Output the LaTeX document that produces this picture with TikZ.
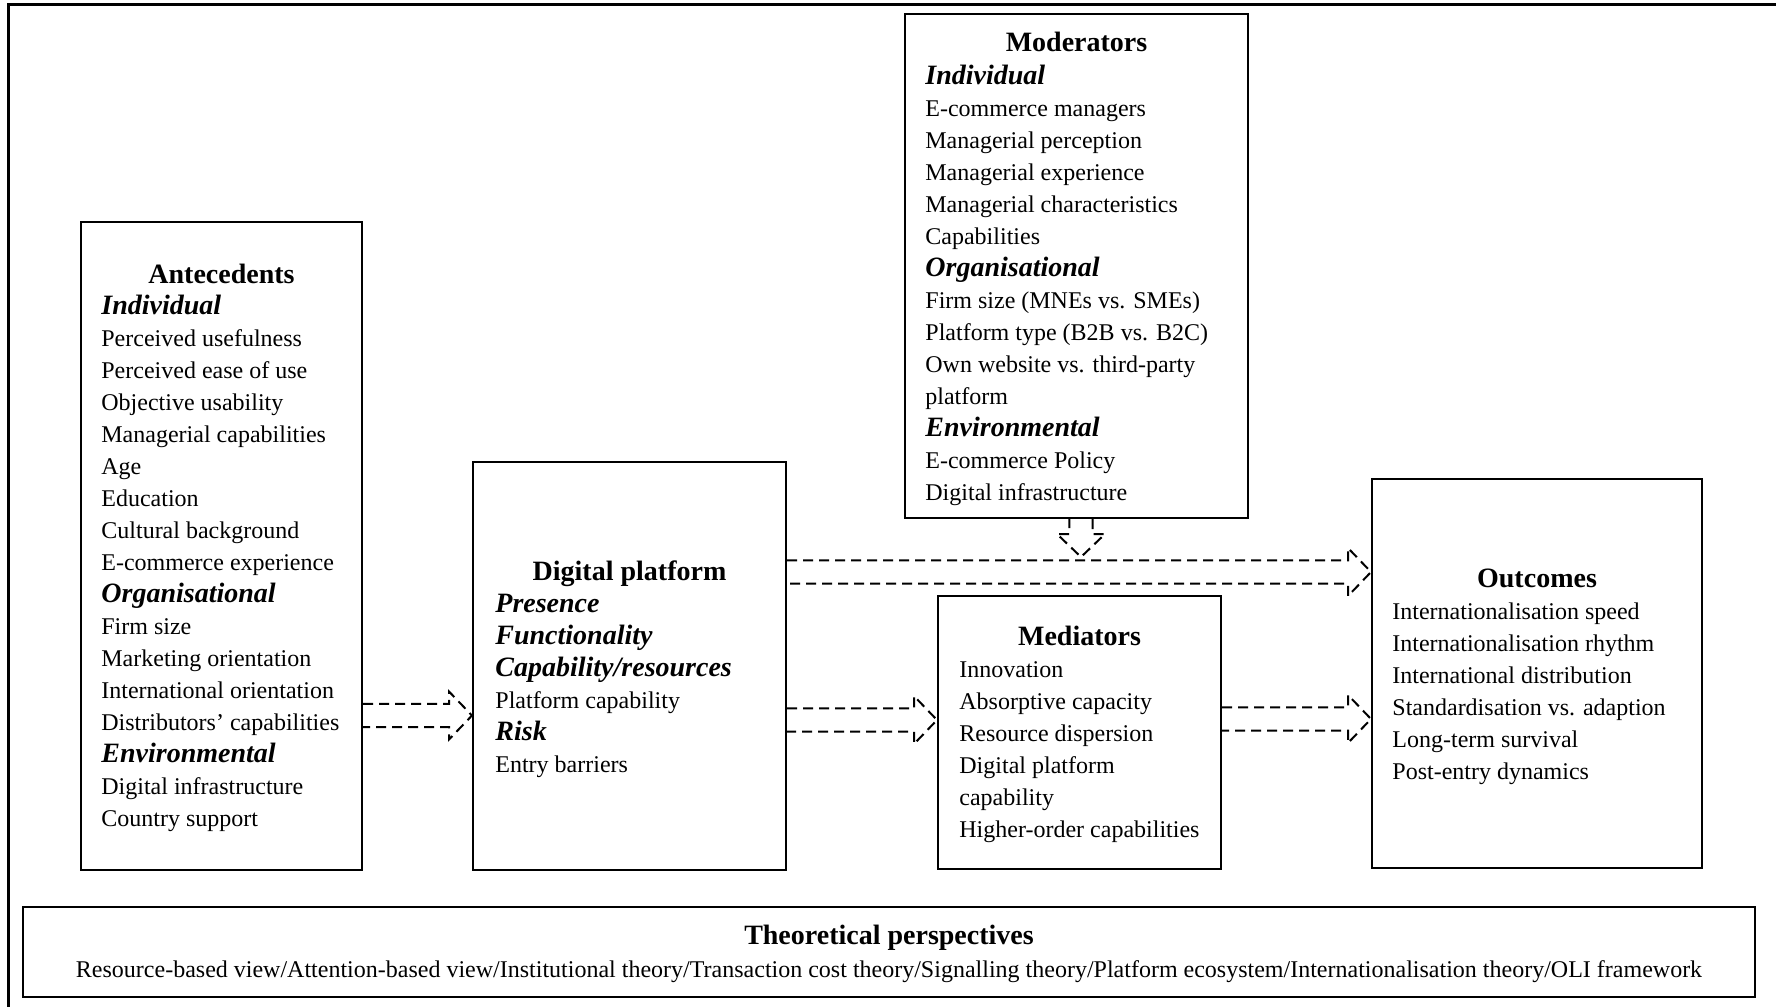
\documentclass[tikz,border=0pt]{standalone}
\usepackage{fontspec}
\setmainfont{Liberation Serif}
\usetikzlibrary{calc}
\tikzset{
  box/.style={
    rectangle,
    draw,
    line width=1pt,
    inner sep=0pt
  },
  heading/.style={
    font=\fontsize{14}{16}\selectfont\bfseries,
    inner sep=0pt,
    anchor=base
  },
  itemlist/.style={
    align=left,
    font=\fontsize{12}{16}\selectfont,
    inner sep=0pt,
    anchor=base west
  },
  frame/.style={line width=1.5pt},
  flow/.style={line width=1pt, dash pattern=on 5pt off 3pt}
}
\newcommand{\levelname}[1]{{\fontsize{14}{16}\selectfont\bfseries\itshape #1}}
% dashed outline arrow from #1 (tail) to #2 (tip)
\newcommand{\dashedblock}[2]{%
  \coordinate (hb) at ($(#2)!11.5pt!(#1)$);
  \draw[flow] ($(#1)!5.85pt!90:(#2)$) -- ($(hb)!5.85pt!90:(#2)$) -- ($(hb)!12pt!90:(#2)$)
    -- (#2) -- ($(hb)!12pt!-90:(#2)$) -- ($(hb)!5.85pt!-90:(#2)$) -- ($(#1)!5.85pt!-90:(#2)$);
}

\begin{document}
\begin{tikzpicture}[x=0.5pt, y=-0.5pt]
  \useasboundingbox (0,0) rectangle (1776,1006);
  \draw[frame] (8,1012) -- (8,5) -- (1782,5);

  \node[box, minimum width=140.5pt, minimum height=324pt] (ante) at (221.5,546) {};
  \node[box, minimum width=156.5pt, minimum height=204pt] (dp) at (629.5,666) {};
  \node[box, minimum width=171.5pt, minimum height=252pt] (mod) at (1076.5,266) {};
  \node[box, minimum width=141.5pt, minimum height=136.5pt] (med) at (1079.5,732.5) {};
  \node[box, minimum width=165pt, minimum height=194.5pt] (out) at (1537,673.5) {};
  \node[box, minimum width=866pt, minimum height=45pt] (theory) at (889,952) {};

  % lists are placed by the baseline of their last line
  \node[heading] (ante-title) at (221.5,283) {Antecedents};
  \node[itemlist] (ante-list) at (101,826) {\levelname{Individual}\\Perceived usefulness\\Perceived ease of use\\
    Objective usability\\Managerial capabilities\\Age\\Education\\Cultural background\\E-commerce experience\\
    \levelname{Organisational}\\Firm size\\Marketing orientation\\International orientation\\Distributors' capabilities\\
    \levelname{Environmental}\\Digital infrastructure\\Country support};

  \node[heading] (dp-title) at (629.5,580) {Digital platform};
  \node[itemlist] (dp-list) at (495,772) {\levelname{Presence}\\\levelname{Functionality}\\\levelname{Capability/resources}\\
    Platform capability\\\levelname{Risk}\\Entry barriers};

  \node[heading] (mod-title) at (1076.5,52) {Moderators};
  \node[itemlist] (mod-list) at (925,500) {\levelname{Individual}\\E-commerce managers\\Managerial perception\\
    Managerial experience\\Managerial characteristics\\Capabilities\\
    \levelname{Organisational}\\Firm size (MNEs vs. SMEs)\\Platform type (B2B vs. B2C)\\Own website vs. third-party\\platform\\
    \levelname{Environmental}\\E-commerce Policy\\Digital infrastructure};

  \node[heading] (med-title) at (1079.5,645) {Mediators};
  \node[itemlist] (med-list) at (959,837) {Innovation\\Absorptive capacity\\Resource dispersion\\Digital platform\\capability\\
    Higher-order capabilities};

  \node[heading] (out-title) at (1537,587) {Outcomes};
  \node[itemlist] (out-list) at (1392,779) {Internationalisation speed\\Internationalisation rhythm\\International distribution\\
    Standardisation vs. adaption\\Long-term survival\\Post-entry dynamics};

  \node[heading] (theory-title) at (889,944) {Theoretical perspectives};
  \node[itemlist, anchor=base] (theory-list) at (889,977) {Resource-based view/Attention-based view/Institutional theory/Transaction cost theory/Signalling theory/Platform ecosystem/Internationalisation theory/OLI framework};

  \coordinate (a1s) at (ante.east |- 0,715.5);
  \coordinate (a1e) at (dp.west |- 0,715.5);
  \coordinate (a2s) at (dp.east |- 0,720);
  \coordinate (a2e) at (med.west |- 0,720);
  \coordinate (a3s) at (med.east |- 0,719);
  \coordinate (a3e) at (out.west |- 0,719);
  \coordinate (a4s) at (dp.east |- 0,572);
  \coordinate (a4e) at (out.west |- 0,572);
  \coordinate (a5s) at (mod.south -| 1081,0);
  \coordinate (a5e) at (1081,557);

  \dashedblock{a1s}{a1e}
  \dashedblock{a2s}{a2e}
  \dashedblock{a3s}{a3e}
  \dashedblock{a4s}{a4e}
  \dashedblock{a5s}{a5e}
\end{tikzpicture}
\end{document}
